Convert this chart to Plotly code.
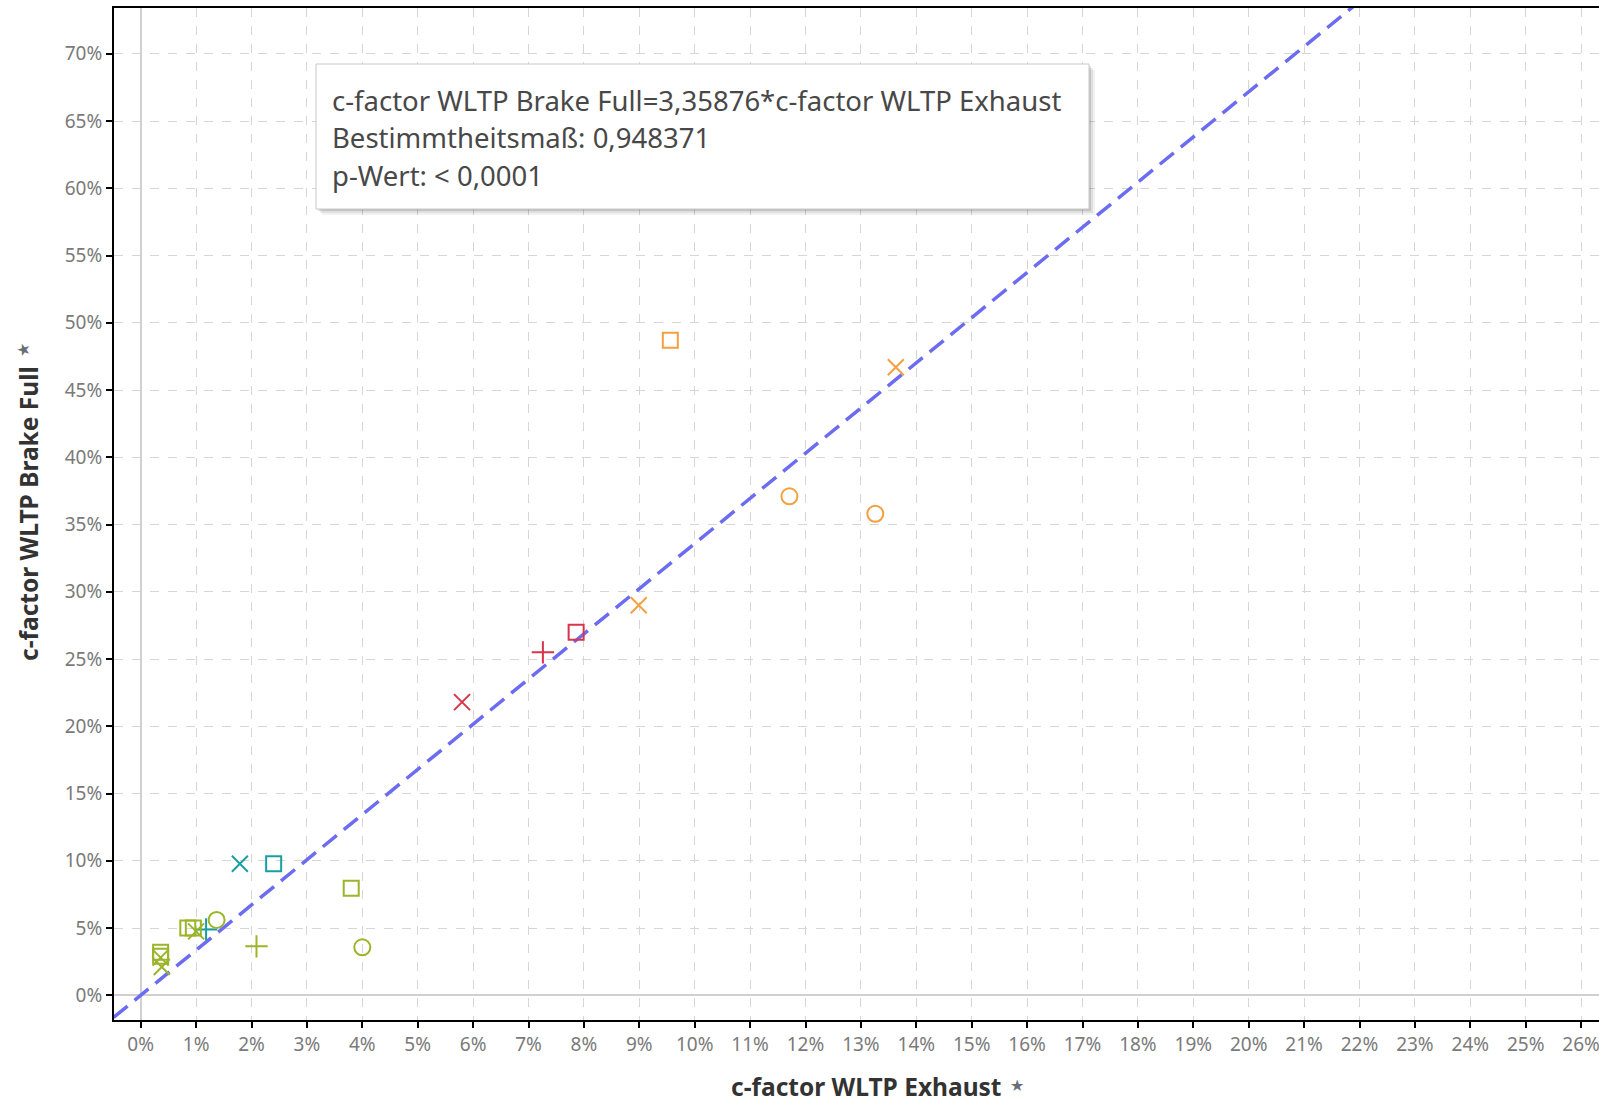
import plotly.graph_objects as go

# ---- data ----
exhaust = [0.0956, 0.1363, 0.1171, 0.1326, 0.0899,
           0.0786, 0.0726, 0.0580,
           0.0179, 0.0240, 0.0118,
           0.0380, 0.0400, 0.0209, 0.0137, 0.0085, 0.0095, 0.0100,
           0.0036, 0.0036, 0.0036, 0.0038]
brake = [0.487, 0.467, 0.371, 0.358, 0.290,
         0.270, 0.255, 0.218,
         0.0978, 0.0978, 0.049,
         0.0796, 0.0357, 0.0364, 0.056, 0.050, 0.050, 0.0475,
         0.032, 0.029, 0.028, 0.021]
group = ["orange"] * 5 + ["red"] * 3 + ["teal"] * 3 + ["green"] * 11
shape = ["square", "x", "circle", "circle", "x",
         "square", "plus", "x",
         "x", "square", "plus",
         "square", "circle", "plus", "circle", "square", "square", "x",
         "square", "square", "x", "x"]

slope = 3.35876
r2_text = "0,948371"
p_text = "< 0,0001"

x_ticks = [i / 100 for i in range(0, 27)]
y_ticks = [i / 100 for i in range(0, 75, 5)]

colors = {"orange": "#f4a040", "red": "#d8344a", "teal": "#17a0a4", "green": "#9ab52a"}
symbols = {"square": "square-open", "x": "x-thin-open", "circle": "circle-open", "plus": "cross-thin-open"}
sizes = {"square": 15, "x": 16, "circle": 16, "plus": 16}

fig = go.Figure()

# trend line
line_x = [-0.02, 0.30]
fig.add_trace(go.Scatter(x=line_x, y=[slope * v for v in line_x], mode="lines",
                         line=dict(color="#6c6cf2", width=3.5, dash="18px,9px"),
                         hoverinfo="skip", showlegend=False))

combos = []
for g, s in zip(group, shape):
    if (g, s) not in combos:
        combos.append((g, s))
for g, s in combos:
    xs = [x for x, gg, ss in zip(exhaust, group, shape) if gg == g and ss == s]
    ys = [y for y, gg, ss in zip(brake, group, shape) if gg == g and ss == s]
    fig.add_trace(go.Scatter(x=xs, y=ys, mode="markers",
                             marker=dict(symbol=symbols[s], size=sizes[s], color=colors[g],
                                         line=dict(color=colors[g], width=2)),
                             showlegend=False))

# plot area geometry (pixels)
W, H = 1599, 1105
L, R, T, B = 114, 0, 8, 85
pw, ph = W - L - R, H - T - B

def px(x):
    return (x - L) / pw

def py(y):
    return (H - B - y) / ph

# tooltip box with shadow
for off, op in [(6, 0.05), (4, 0.08), (2, 0.12)]:
    fig.add_shape(type="rect", xref="paper", yref="paper",
                  x0=px(316 + off), x1=px(1089 + off), y0=py(209 + off), y1=py(64 + off),
                  line=dict(width=0), fillcolor=f"rgba(0,0,0,{op})", layer="above")
fig.add_shape(type="rect", xref="paper", yref="paper",
              x0=px(316), x1=px(1089), y0=py(209), y1=py(64),
              line=dict(color="#c8c8c8", width=1), fillcolor="white", layer="above")

lines = ["c-factor WLTP Brake Full=3,35876*c-factor WLTP Exhaust",
         "Bestimmtheitsmaß: " + r2_text,
         "p-Wert: " + p_text]
for i, t in enumerate(lines):
    fig.add_annotation(xref="paper", yref="paper", x=px(330), y=py(100 + 37.5 * i),
                       text=t, showarrow=False, xanchor="left", yanchor="middle",
                       font=dict(family="Noto Sans", size=27.5, color="#484848"))

# axis titles
fig.add_annotation(xref="paper", yref="paper", x=px(866), y=py(1086),
                   text="<b>c-factor WLTP Exhaust</b>", showarrow=False,
                   xanchor="center", yanchor="middle",
                   font=dict(family="Noto Sans", size=24.5, color="#333333"))
fig.add_annotation(xref="paper", yref="paper", x=px(1017), y=py(1085),
                   text="★", showarrow=False, xanchor="center", yanchor="middle",
                   font=dict(family="DejaVu Sans", size=16, color="#666e78"))
fig.add_annotation(xref="paper", yref="paper", x=px(28), y=py(514),
                   text="<b>c-factor WLTP Brake Full</b>", showarrow=False, textangle=-90,
                   xanchor="center", yanchor="middle",
                   font=dict(family="Noto Sans", size=24.5, color="#333333"))
fig.add_annotation(xref="paper", yref="paper", x=px(23), y=py(350),
                   text="★", showarrow=False, xanchor="center", yanchor="middle", textangle=-90,
                   font=dict(family="DejaVu Sans", size=16, color="#666e78"))

axis_common = dict(showgrid=True, gridcolor="#d6d6d6", griddash="dash", gridwidth=1,
                   zeroline=True, zerolinecolor="#d0d0d0", zerolinewidth=2,
                   showline=True, linecolor="black", linewidth=2,
                   ticks="outside", ticklen=6, tickcolor="black", tickwidth=2,
                   tickformat=".0%", ticklabeloverflow="allow",
                   tickfont=dict(family="Noto Sans", size=19, color="#7a7a7a"))

fig.update_xaxes(range=[(L - 140.7) / 5540, (W - 140.7) / 5540], tickvals=x_ticks,
                 mirror=True, **axis_common)
fig.update_yaxes(range=[(995.3 - (H - B)) / 1345, (995.3 - T) / 1345], tickvals=y_ticks,
                 **axis_common)

fig.update_layout(width=W, height=H, margin=dict(l=L, r=R, t=T, b=B),
                  plot_bgcolor="white", paper_bgcolor="white", showlegend=False)

fig.write_html("out.html")
